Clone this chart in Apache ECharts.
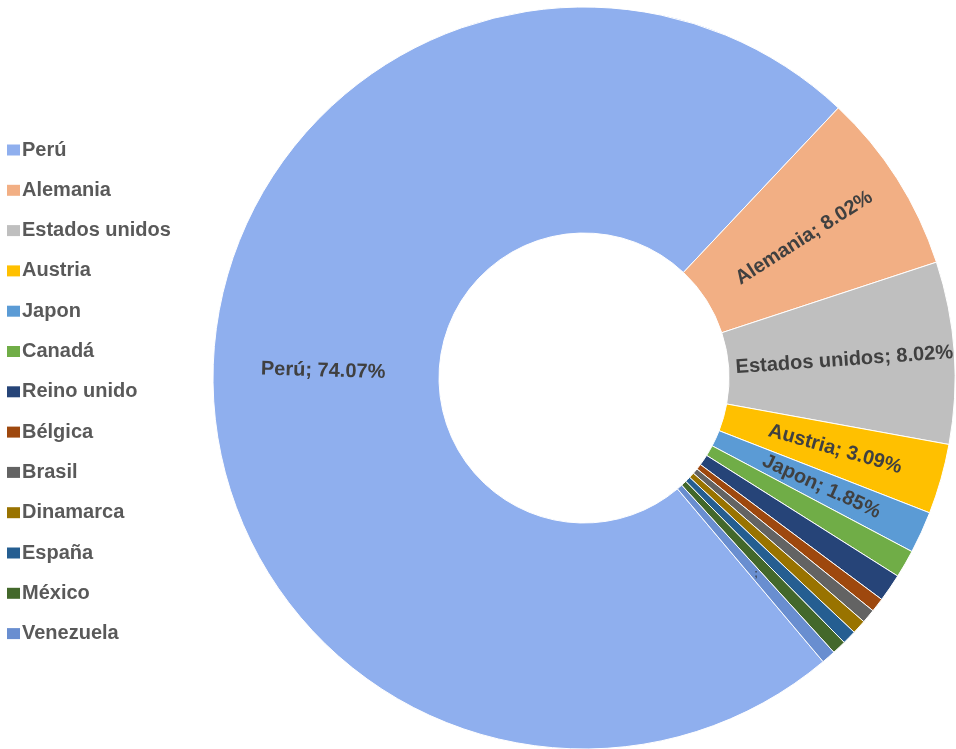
<!DOCTYPE html>
<html>
<head>
<meta charset="utf-8">
<title>Distribución por país</title>
<script src="https://cdn.jsdelivr.net/npm/echarts@6/dist/echarts.min.js"></script>
<style>
  html, body { margin: 0; padding: 0; background: #ffffff; }
  #chart { width: 956px; height: 749px; }
</style>
</head>
<body>
<div id="chart"></div>
<script>
// Countries, in drawing order (clockwise)
const countries = ['Perú', 'Alemania', 'Estados unidos', 'Austria', 'Japon', 'Canadá',
  'Reino unido', 'Bélgica', 'Brasil', 'Dinamarca', 'España', 'México', 'Venezuela'];
// Share of each country, in percent
const shares = [74.07, 8.02, 8.02, 3.09, 1.85, 1.23, 1.23, 0.62, 0.62, 0.62, 0.62, 0.62, 0.62];
// Slice colours
const sliceColors = ['#8FAFEE', '#F2AF84', '#BFBFBF', '#FFC000', '#5B9BD5', '#70AD47',
  '#264478', '#9E480E', '#636363', '#997300', '#255E91', '#43682B', '#698ED0'];
// Slices that carry a "name; value%" label
const labelled = ['Perú', 'Alemania', 'Estados unidos', 'Austria', 'Japon'];

const FONT = '"Liberation Sans", Arial, sans-serif';

const data = countries.map((name, i) => {
  const item = { name: name, value: shares[i], itemStyle: { color: sliceColors[i] } };
  if (labelled.indexOf(name) >= 0) {
    item.label = { show: true };
  } else if (name === 'Venezuela') {
    // empty data label: only the separator shows
    item.label = { show: true, formatter: ';', rotate: 0, fontSize: 11, color: '#404a5a' };
  } else {
    item.label = { show: false };
  }
  return item;
});

const chart = echarts.init(document.getElementById('chart'), null, { renderer: 'canvas' });
chart.setOption({
  backgroundColor: '#ffffff',
  animation: false,
  legend: {
    orient: 'vertical',
    left: 7,
    top: 140,
    padding: 0,
    itemWidth: 13,
    itemHeight: 11,
    itemGap: 20.3,
    icon: 'rect',
    itemStyle: { borderWidth: 0 },
    data: countries,
    textStyle: {
      fontFamily: FONT,
      fontSize: 20,
      fontWeight: 'bold',
      color: '#595959',
      lineHeight: 20,
      padding: [0, 0, 0, -3]
    }
  },
  series: [{
    type: 'pie',
    center: [584, 378],
    radius: [145, 371],
    startAngle: -49.87,
    clockwise: true,
    avoidLabelOverlap: false,
    itemStyle: { borderColor: '#ffffff', borderWidth: 1 },
    emphasis: { disabled: true },
    label: {
      position: 'inside',
      rotate: 'radial',
      formatter: '{b}; {c}%',
      fontFamily: FONT,
      fontSize: 20,
      fontWeight: 'bold',
      color: '#404040'
    },
    labelLine: { show: false },
    data: data
  }]
});
</script>
</body>
</html>
